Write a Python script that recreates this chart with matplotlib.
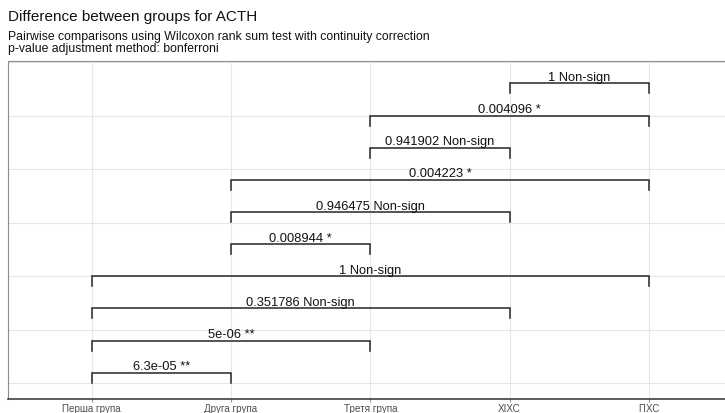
import numpy as np
import matplotlib
matplotlib.use("Agg")
import matplotlib.pyplot as plt

plt.rcParams['font.family'] = ['Liberation Sans', 'DejaVu Sans']

# groups on the x axis
groups = ["Перша група", "Друга група", "Третя група", "ХІХС", "ГІХС"]

# pairwise comparisons, drawn bottom to top
group1 = [1, 1, 1, 1, 2, 2, 2, 3, 3, 4]
group2 = [2, 3, 4, 5, 3, 4, 5, 4, 5, 5]
p_adj = ["6.3e-05", "5e-06", "0.351786", "1", "0.008944",
         "0.946475", "0.004223", "0.941902", "0.004096", "1"]
signif = ["**", "**", "Non-sign", "Non-sign", "*",
          "Non-sign", "*", "Non-sign", "*", "Non-sign"]

W, H = 725, 414
fig = plt.figure(figsize=(W / 100, H / 100), dpi=100)
ax = fig.add_axes([8 / W, 14.5 / H, 724.6 / W, 338 / H])

xs = np.arange(1, len(groups) + 1)
ax.set_xlim(0.4, 5.6)
ax.set_ylim(0.2, 10.714)

# grid
ax.set_xticks(xs)
ax.set_xticklabels(groups, fontsize=7.1, color="#4d4d4d")
ax.set_yticks(np.arange(2 / 3, 11, 5 / 3))
ax.set_yticklabels([])
ax.grid(True, color="#e6e6e6", lw=0.8)
ax.set_axisbelow(True)
ax.tick_params(axis="y", length=0)
ax.tick_params(axis="x", length=2.5, color="#999999", width=0.8, pad=0.4)

for s in ["left", "top", "right"]:
    ax.spines[s].set_color("#8c8c8c")
    ax.spines[s].set_linewidth(0.8)
ax.spines["bottom"].set_color("#404040")
ax.spines["bottom"].set_linewidth(1.2)

drop = 0.31
for i, (a, b, p, s) in enumerate(zip(group1, group2, p_adj, signif)):
    y = i + 1
    ax.plot([a, a, b, b], [y - drop, y, y, y - drop], color="#262626", lw=1.1,
            solid_joinstyle="miter")
    ax.annotate(f"{p} {s}", xy=((a + b) / 2, y), xytext=(0, 0.3),
                textcoords="offset points", ha="center", va="bottom",
                fontsize=9.3, color="#111111")

fig.text(8 / W, 1 - 21 / H, "Difference between groups for ACTH",
         fontsize=11, ha="left", va="baseline", color="#111111")
fig.text(8 / W, 1 - 40 / H,
         "Pairwise comparisons using Wilcoxon rank sum test with continuity correction",
         fontsize=8.8, ha="left", va="baseline", color="#111111")
fig.text(8 / W, 1 - 52 / H, "p-value adjustment method: bonferroni",
         fontsize=8.8, ha="left", va="baseline", color="#111111")

fig.savefig("out.png", dpi=100)
